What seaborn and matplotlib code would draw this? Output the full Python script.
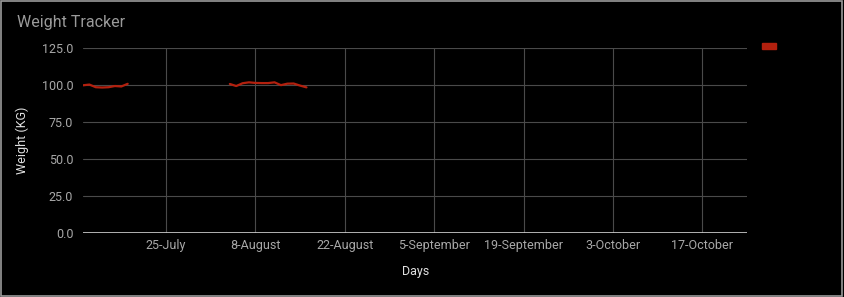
import matplotlib
matplotlib.use("Agg")
import matplotlib.pyplot as plt
import matplotlib.dates as mdates
import seaborn as sns
import pandas as pd
from matplotlib.patches import Rectangle, Patch
from matplotlib.ticker import FormatStrFormatter

# ---- data ----
dates1 = pd.date_range("2020-07-12", periods=8, freq="D")
weights1 = [99.8, 100.3, 98.5, 98.3, 98.5, 99.3, 99.0, 100.8]
dates2 = pd.date_range("2020-08-04", periods=13, freq="D")
weights2 = [100.7, 99.3, 101.2, 101.8, 101.4, 101.3, 101.3, 101.8, 99.9, 100.9, 101.0, 99.6, 98.4]
y_ticks = [0, 25, 50, 75, 100, 125]
x_tick_dates = pd.date_range("2020-07-25", periods=7, freq="14D")
title = "Weight Tracker"
ylabel = "Weight (KG)"
xlabel = "Days"

df = pd.DataFrame({
    "date": list(dates1) + list(dates2),
    "weight": weights1 + weights2,
    "segment": [0] * len(dates1) + [1] * len(dates2),
})

sns.set_theme(style="dark")
plt.rcParams["font.family"] = ["Roboto", "DejaVu Sans"]

fig = plt.figure(figsize=(8.44, 2.97), dpi=100, facecolor="black")
ax = fig.add_axes([83 / 844, 1 - 233 / 297, (747 - 83) / 844, (233 - 48) / 297])
ax.set_facecolor("black")

line_color = "#b3200e"
sns.lineplot(data=df, x="date", y="weight", units="segment", estimator=None,
             color=line_color, linewidth=1.6, ax=ax)

ax.set_xlim(pd.Timestamp("2020-07-12"), pd.Timestamp("2020-10-24"))
ax.set_ylim(0, 125)
ax.set_yticks(y_ticks)
ax.yaxis.set_major_formatter(FormatStrFormatter("%.1f"))
ax.set_xticks(x_tick_dates)
ax.xaxis.set_major_formatter(mdates.DateFormatter("%-d-%B"))

ax.grid(True, color="#4a4a4a", linewidth=0.8)
ax.set_axisbelow(True)
ax.axhline(0, color="#d0d0d0", linewidth=1.2, zorder=1)
for s in ax.spines.values():
    s.set_visible(False)

ax.tick_params(axis="y", colors="#4a4a4a", length=3, width=0.8, pad=4,
               labelcolor="#a8a8a8", labelsize=9)
ax.tick_params(axis="x", length=0, pad=4, labelcolor="#a8a8a8", labelsize=9)

ax.set_ylabel(ylabel, color="#e0e0e0", fontsize=9)
ax.set_xlabel(xlabel, color="#e0e0e0", fontsize=9)
ax.yaxis.set_label_coords(22 / 844, 1 - 140 / 297, transform=fig.transFigure)
ax.xaxis.set_label_coords(416 / 844, 1 - 272 / 297, transform=fig.transFigure)
ax.yaxis.label.set_va("center")
ax.xaxis.label.set_va("center")

fig.text(17 / 844, 1 - 23 / 297, title, color="#9a9a9a", fontsize=11.5, va="center", ha="left")

leg = ax.legend(handles=[Patch(facecolor=line_color, edgecolor=line_color)], labels=[""],
                loc="center", bbox_to_anchor=(769 / 844, 1 - 47.5 / 297),
                bbox_transform=fig.transFigure, frameon=False,
                handlelength=0.9, handleheight=0.25, borderpad=0, handletextpad=0,
                borderaxespad=0)

fig.patches.append(Rectangle((0.001, 0.002), 0.997, 0.995, transform=fig.transFigure,
                             fill=False, edgecolor="#9a9a9a", linewidth=1.2))

fig.savefig("out.png", dpi=100, facecolor="black")
